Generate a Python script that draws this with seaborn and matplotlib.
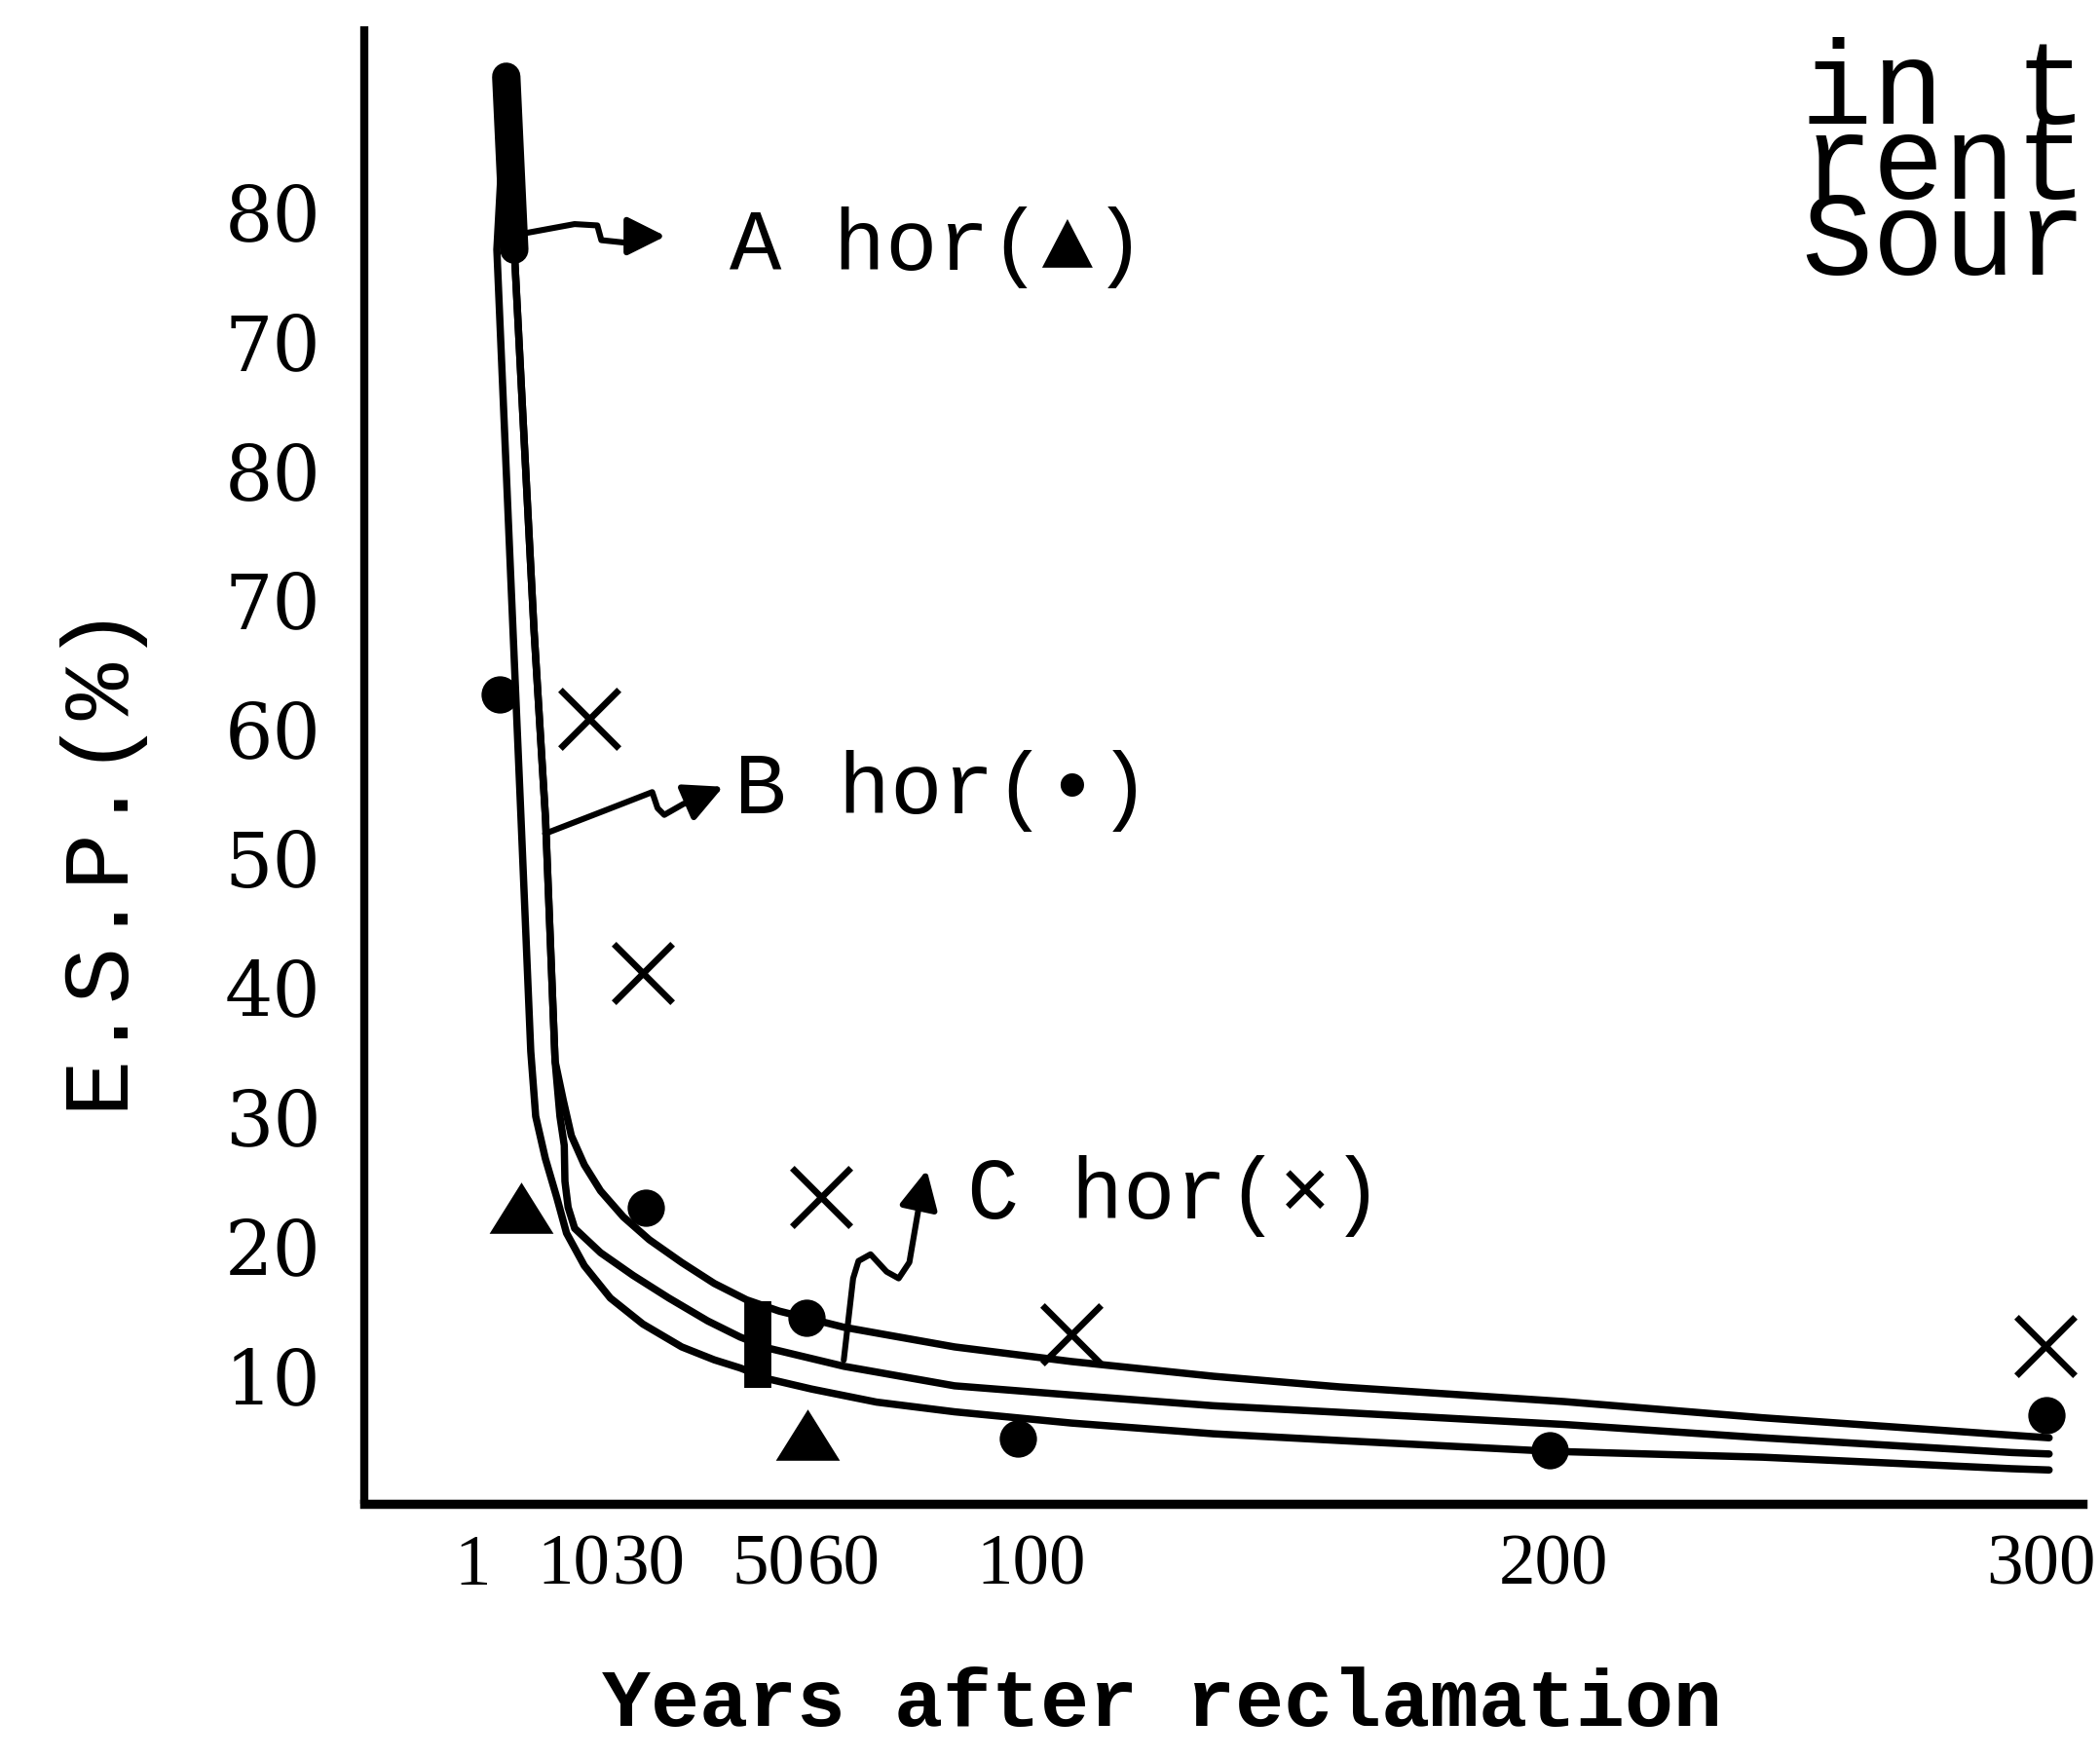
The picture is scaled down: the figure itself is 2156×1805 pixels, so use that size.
import numpy as np
import pandas as pd
import matplotlib
matplotlib.use("Agg")
import matplotlib.pyplot as plt
from matplotlib.patches import FancyArrowPatch
from matplotlib.path import Path
from matplotlib.font_manager import FontProperties
import matplotlib.transforms as mtransforms
import seaborn as sns

# ---------------- data ----------------
tick_years = [1, 10, 30, 50, 60, 100, 200, 300]
tick_labels_x = ["1", "10", "30", "50", "60", "100", "200", "300"]
y_ticks = [10, 20, 30, 40, 50, 60, 70, 80, 90, 100]
y_tick_labels = ["10", "20", "30", "40", "50", "60", "70", "80", "70", "80"]

upper_years = [2.77, 3.73, 6.09, 7.48, 8.63, 9.61, 11.18, 14.36, 18.33, 23.90, 30.21,
               36.41, 42.64, 48.85, 52.75, 59.47, 84.22, 109.16, 136.13, 160.05,
               202.87, 241.51, 290.08, 297.39]
upper_esp = [110.36, 96.99, 67.67, 52.99, 34.20, 31.19, 28.45, 26.19, 24.18, 22.17, 20.40,
             18.64, 17.02, 15.75, 14.88, 13.63, 12.11, 10.98, 9.84, 9.02,
             7.88, 6.63, 5.28, 5.08]

middle_years = [2.77, 3.73, 6.09, 7.48, 8.63, 9.21, 9.73, 9.81, 10.39, 12.00, 18.33,
                26.30, 33.95, 41.38, 47.62, 51.74, 59.47, 84.22, 109.16, 136.13,
                160.05, 202.87, 241.51, 290.08, 297.39]
middle_esp = [110.36, 96.99, 67.67, 52.99, 34.20, 29.95, 27.69, 24.92, 22.91, 21.28, 19.40,
              17.64, 15.89, 14.12, 12.87, 11.99, 10.61, 9.10, 8.39, 7.56,
              7.05, 6.11, 5.08, 3.94, 3.83]

lower_years = [2.77, 1.64, 3.57, 4.54, 5.71, 6.30, 7.46, 8.83, 10.00, 14.36, 20.72,
               28.69, 36.41, 42.64, 47.62, 51.74, 56.11, 66.31, 84.22, 109.16,
               136.13, 160.05, 200.0, 241.51, 290.08, 297.39]
lower_esp = [110.36, 96.99, 67.67, 52.99, 34.97, 29.95, 26.68, 23.67, 20.91, 18.39, 15.89,
             13.88, 12.11, 11.11, 10.48, 9.61, 8.85, 7.84, 7.09, 6.22,
             5.39, 4.87, 4.04, 3.58, 2.69, 2.59]

a_years = [4.54, 55.7]
a_esp = [22.9, 5.3]
b_years = [1.96, 29.5, 55.6, 98.8, 200.0, 296.9]
b_esp = [62.6, 22.9, 14.4, 5.0, 4.1, 6.8]
c_years = [15.6, 28.7, 57.1, 109.2, 296.6]
c_esp = [60.7, 41.0, 23.7, 13.1, 12.2]

bar_year = 50.5

# ---------------- the printed (non-proportional) year axis ----------------
# relative spacing of the year ticks along the hand-drawn axis
axis_spacing = [0, 56, 117, 195, 267, 397, 790, 1173]
_ty = np.array(tick_years, float)
_tp = np.array(axis_spacing, float)


def _pw(x, src, dst):
    x = np.asarray(x, float)
    out = np.interp(x, src, dst)
    s0 = (dst[1] - dst[0]) / (src[1] - src[0])
    s1 = (dst[-1] - dst[-2]) / (src[-1] - src[-2])
    out = np.where(x < src[0], dst[0] + (x - src[0]) * s0, out)
    out = np.where(x > src[-1], dst[-1] + (x - src[-1]) * s1, out)
    return out


def fwd(x):
    return _pw(x, _ty, _tp)


def inv(p):
    return _pw(p, _tp, _ty)


# ---------------- figure ----------------
W, H, DPI = 2156, 1806, 200
sns.set_style("white")
plt.rcParams["font.family"] = ["DejaVu Serif", "DejaVu Sans"]
plt.rcParams["text.color"] = "black"

fig = plt.figure(figsize=(W / DPI, H / DPI), dpi=DPI)
RW, RH = 1568.0, 1313.0  # reference layout units


def fxy(px, py):
    return (px / RW, 1.0 - py / RH)


ax = fig.add_axes([272 / RW, 1 - 1123 / RH, (1555 - 272) / RW, (1123 - 20) / RH])
ax.set_xscale("function", functions=(fwd, inv))

line_kw = dict(color="black", linewidth=2.7, sort=False, estimator=None,
               solid_capstyle="round", solid_joinstyle="round", ax=ax, legend=False)
for yrs, vals in [(upper_years, upper_esp), (middle_years, middle_esp),
                  (lower_years, lower_esp)]:
    df = pd.DataFrame({"years": yrs, "esp": vals})
    sns.lineplot(data=df, x="years", y="esp", **line_kw)

# heavy ink where the three curves start together
top = pd.DataFrame({"years": upper_years[:2], "esp": upper_esp[:2]})
sns.lineplot(data=top, x="years", y="esp", color="black", linewidth=10.5,
             sort=False, estimator=None, solid_capstyle="round", ax=ax, legend=False)

# thick bar across the curves near 50 years
y_lo = np.interp(bar_year, lower_years[1:], lower_esp[1:]) - 0.9
y_hi = np.interp(bar_year, upper_years, upper_esp) + 0.3
ax.vlines(bar_year, y_lo, y_hi, colors="black", linewidth=10)

tri = [(-1.0, -0.8), (1.0, -0.8), (0.0, 0.8), (-1.0, -0.8)]
sns.scatterplot(x=a_years, y=a_esp, marker=tri, s=560, color="black",
                edgecolor="black", linewidth=0, ax=ax, zorder=5)
sns.scatterplot(x=b_years, y=b_esp, marker="o", s=190, color="black",
                edgecolor="black", linewidth=0, ax=ax, zorder=5)
sns.scatterplot(x=c_years, y=c_esp, marker="x", s=470, color="black",
                linewidth=2.4, ax=ax, zorder=5)

ax.set_xlim(inv(-95), inv(1188))
ax.set_ylim(0, 114.3)
ax.set_xticks(tick_years)
ax.set_xticklabels(tick_labels_x)
ax.set_yticks(y_ticks)
ax.set_yticklabels(y_tick_labels)
ax.minorticks_off()
ax.set_xlabel("")
ax.set_ylabel("")

for s in ["top", "right"]:
    ax.spines[s].set_visible(False)
ax.spines["left"].set_linewidth(3.0)
ax.spines["bottom"].set_linewidth(3.4)
ax.spines["left"].set_color("black")
ax.spines["bottom"].set_color("black")
ax.spines["left"].set_capstyle("butt")

ax.tick_params(axis="x", direction="in", length=8, width=2.6, pad=11,
               colors="black")
ax.tick_params(axis="y", direction="in", length=14, width=2.4, pad=16,
               colors="black")

# small horizontal shifts of the hand-lettered year labels (reference layout px)
label_shift = [-14, 5, 0, 12, -4, 6, 3, -16]
for lab, dx in zip(ax.get_xticklabels(), label_shift):
    lab.set_fontfamily("Liberation Serif")
    lab.set_fontsize(27)
    off = mtransforms.ScaledTranslation(dx * (W / RW) / DPI, 0, fig.dpi_scale_trans)
    lab.set_transform(lab.get_transform() + off)
for lab in ax.get_yticklabels():
    lab.set_fontfamily("DejaVu Serif")
    lab.set_fontsize(28)

mono = ["Liberation Mono", "DejaVu Sans Mono", "DejaVu Sans"]

# axis titles
fig.text(*fxy(72, 637), "E.S.P.(%)", rotation=90, ha="center", va="center",
         fontsize=35, family=mono)
fig.text(*fxy(868, 1272), "Years after reclamation", ha="center", va="center",
         fontsize=30, family=mono, fontweight="bold")

# horizon labels
fig.text(*fxy(545, 185), "A hor(\u25B2)", ha="left", va="center", fontsize=32, family=mono)
fig.text(*fxy(548, 590), "B hor(\u2022)", ha="left", va="center", fontsize=32, family=mono)
fig.text(*fxy(722, 893), "C hor(\u00D7)", ha="left", va="center", fontsize=32, family=mono)

# caption fragments at the right edge (one block with tight typewriter leading;
# the anchor is the baseline of the last line)
cap_fs = 44
fp = FontProperties(family=mono, size=cap_fs)
renderer = fig.canvas.get_renderer()
_, lp_h, lp_d = renderer.get_text_width_height_descent("lp", fp, ismath=False)
step_px = 52.5 * (H / RH)
ls = step_px / (lp_h - lp_d) * (72.2 / 99.0)
fig.text(*fxy(1345, 205), "in t\nrent\nSour", ha="left", va="baseline",
         fontproperties=fp, linespacing=ls)

# wavy arrows pointing to the labels
arrow_paths = [
    [(391, 175), (429, 168), (446, 169), (449, 180), (468, 182), (480, 177), (497, 177)],
    [(407, 623), (451, 606), (487, 592), (491, 604), (496, 609), (510, 601), (540, 588)],
    [(630, 1016), (637, 955), (641, 942), (650, 937), (662, 950), (671, 955), (679, 943),
     (686, 902), (692, 874)],
]
for pts in arrow_paths:
    verts = [fxy(px, py) for px, py in pts]
    path = Path(verts, [Path.MOVETO] + [Path.LINETO] * (len(verts) - 1))
    arr = FancyArrowPatch(path=path, arrowstyle="-|>,head_length=0.6,head_width=0.3",
                          mutation_scale=20, color="black", linewidth=2.2,
                          joinstyle="round", transform=fig.transFigure)
    fig.add_artist(arr)

fig.savefig("out.png", dpi=DPI, facecolor="white")
